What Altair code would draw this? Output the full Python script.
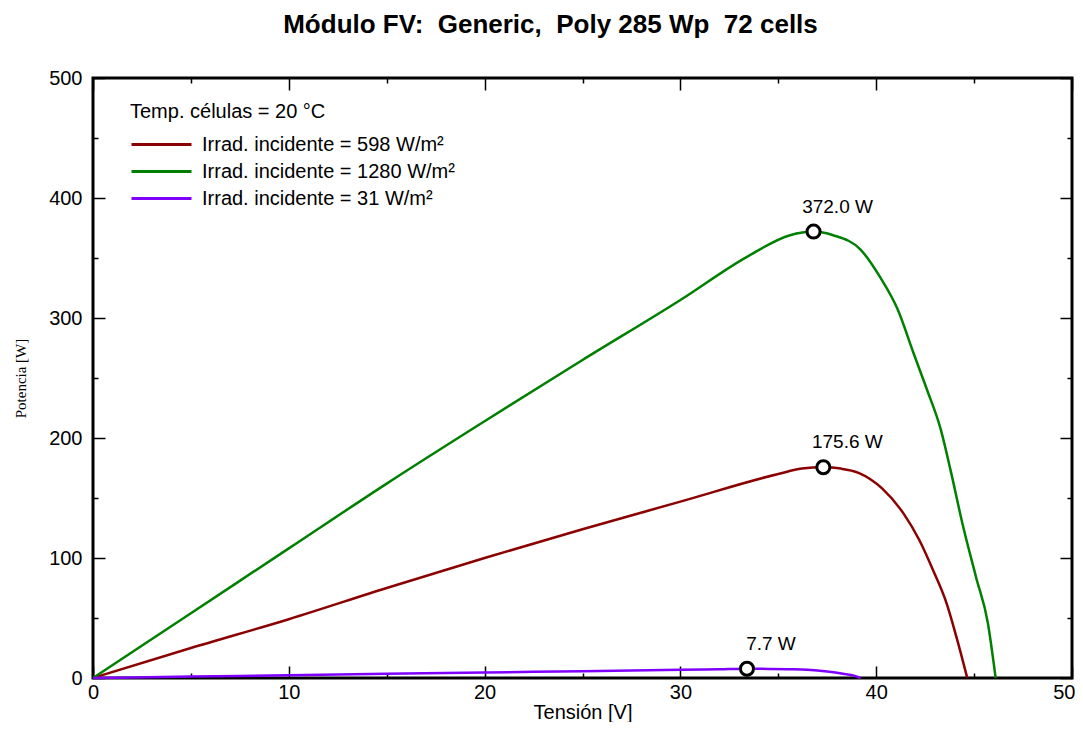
import altair as alt
import pandas as pd

# ---------------- data ----------------
title_text = "Módulo FV:\u00a0 Generic,\u00a0 Poly 285 Wp\u00a0 72 cells"
legend_title = "Temp. células = 20 °C"
series_names = [
    "Irrad. incidente = 598 W/m²",
    "Irrad. incidente = 1280 W/m²",
    "Irrad. incidente = 31 W/m²",
]
series_colors = ["#8b0000", "#008000", "#8000ff"]

v_598 = [0, 5, 10, 15, 20, 25, 30, 35, 36.2, 37.3, 38.2, 39.1, 40.3, 41.4, 42.2, 42.9, 43.6, 44.1, 44.65]
p_598 = [0, 25, 49, 75, 100, 124, 147, 170, 174.5, 175.6, 174.5, 171, 158, 137, 115, 90, 62, 34, 0]

v_1280 = [0, 5, 10, 15, 20, 25, 30, 33.4, 35.6, 36.8, 37.8, 39.2, 40.2, 41.1, 41.9, 42.6, 43.3, 43.8, 44.4, 45.1, 45.7, 46.1]
p_1280 = [0, 54, 108, 162, 214, 265, 315, 351, 369, 372, 369, 357, 334, 307, 271, 240, 207, 173, 129, 84, 46, 0]

v_31 = [0, 5, 10, 15, 20, 25, 30, 32, 33.4, 34.5, 35.5, 36.5, 37.5, 38.3, 38.9, 39.2]
p_31 = [0, 1.2, 2.3, 3.5, 4.6, 5.7, 6.8, 7.3, 7.7, 7.6, 7.3, 6.8, 5.4, 3.6, 1.8, 0]

mpp_v = [36.8, 37.3, 33.4]
mpp_p = [372.0, 175.6, 7.7]
mpp_labels = ["372.0 W", "175.6 W", "7.7 W"]

x_ticks = list(range(0, 51, 5))
y_ticks = list(range(0, 501, 50))

# ---------------- tables ----------------
rows = []
for name, vs, ps in zip(series_names, [v_598, v_1280, v_31], [p_598, p_1280, p_31]):
    for i, (v, p) in enumerate(zip(vs, ps)):
        rows.append({"V": v, "P": p, "serie": name, "i": i})
curves = pd.DataFrame(rows)
mpp = pd.DataFrame({"V": mpp_v, "P": mpp_p, "label": mpp_labels})

FONT = "Liberation Sans"
TICK = 12

xscale = alt.Scale(domain=[0, 50], nice=False, zero=False)
yscale = alt.Scale(domain=[0, 500], nice=False, zero=False)

x_minor_dash = {"condition": {"test": "datum.value % 10 !== 0", "value": [0, 7, 5]}, "value": [1, 0]}
y_minor_dash = {"condition": {"test": "datum.value % 100 !== 0", "value": [0, 7, 5]}, "value": [1, 0]}

common_axis = dict(
    domain=False, grid=False, offset=-TICK, tickSize=TICK, tickWidth=1.5,
    tickColor="black", labelOverlap=False, labelFlush=False,
)

x_bottom = alt.Axis(
    orient="bottom", values=x_ticks, tickDash=x_minor_dash,
    labelExpr="datum.value % 10 === 0 ? datum.label : ''",
    labelAlign={"condition": {"test": "datum.value >= 50", "value": "right"}, "value": "center"},
    labelOffset={"condition": {"test": "datum.value >= 50", "value": 3}, "value": 0},
    labelFont=FONT, labelFontSize=20, labelColor="black", labelPadding=4,
    title="Tensión [V]", titleFont=FONT, titleFontSize=20, titleFontWeight="normal",
    titleColor="black", titlePadding=0, **common_axis,
)
y_left = alt.Axis(
    orient="left", values=y_ticks, tickDash=y_minor_dash,
    labelExpr="datum.value % 100 === 0 ? datum.label : ''",
    labelFont=FONT, labelFontSize=20, labelColor="black", labelPadding=11,
    title="Potencia [W]", titleFont="Liberation Serif", titleFontSize=15,
    titleFontWeight="normal", titleColor="black", titlePadding=20, **common_axis,
)
x_top = alt.Axis(orient="top", values=x_ticks, tickDash=x_minor_dash, labels=False, title=None, **common_axis)
y_right = alt.Axis(orient="right", values=y_ticks, tickDash=y_minor_dash, labels=False, title=None, **common_axis)

lines = alt.Chart(curves).mark_line(strokeWidth=2.5, interpolate="monotone").encode(
    x=alt.X("V:Q", scale=xscale, axis=x_bottom),
    y=alt.Y("P:Q", scale=yscale, axis=y_left),
    order="i:Q",
    color=alt.Color(
        "serie:N",
        scale=alt.Scale(domain=series_names, range=series_colors),
        sort=series_names,
        legend=alt.Legend(
            orient="none", legendX=37, legendY=24,
            title=legend_title, titleFont=FONT, titleFontSize=20, titleLimit=800,
            titleFontWeight="normal", titleColor="black", titlePadding=9,
            labelFont=FONT, labelFontSize=20, labelColor="black", labelOffset=9,
            symbolType="stroke", symbolSize=3600, symbolStrokeWidth=3,
            clipHeight=27, rowPadding=0, padding=0, labelLimit=800,
        ),
    ),
)

points = alt.Chart(mpp).mark_point(
    shape="circle", filled=True, fill="white", stroke="black",
    strokeWidth=3, size=170, opacity=1,
).encode(
    x=alt.X("V:Q", scale=xscale, axis=x_top),
    y=alt.Y("P:Q", scale=yscale, axis=y_right),
)

labels = alt.Chart(mpp).mark_text(
    dx=24, dy=-25, font=FONT, fontSize=19, color="black", align="center", baseline="middle",
).encode(
    x=alt.X("V:Q", scale=xscale, axis=None),
    y=alt.Y("P:Q", scale=yscale, axis=None),
    text="label:N",
)

chart = (
    alt.layer(lines, points, labels)
    .resolve_axis(x="independent", y="independent")
    .properties(
        width=979,
        height=600,
        autosize=alt.AutoSizeParams(type="none"),
        padding={"left": 85, "top": 70, "right": 3, "bottom": 44},
        title=alt.TitleParams(
            text=title_text, font=FONT, fontSize=26, fontWeight="bold", color="black",
            anchor="middle", frame="group", dx=-32, offset=30,
        ),
    )
    .configure(background="white")
    .configure_view(stroke="black", strokeWidth=3)
)

chart.save("out.html", embed_options={"renderer": "svg", "actions": False})
